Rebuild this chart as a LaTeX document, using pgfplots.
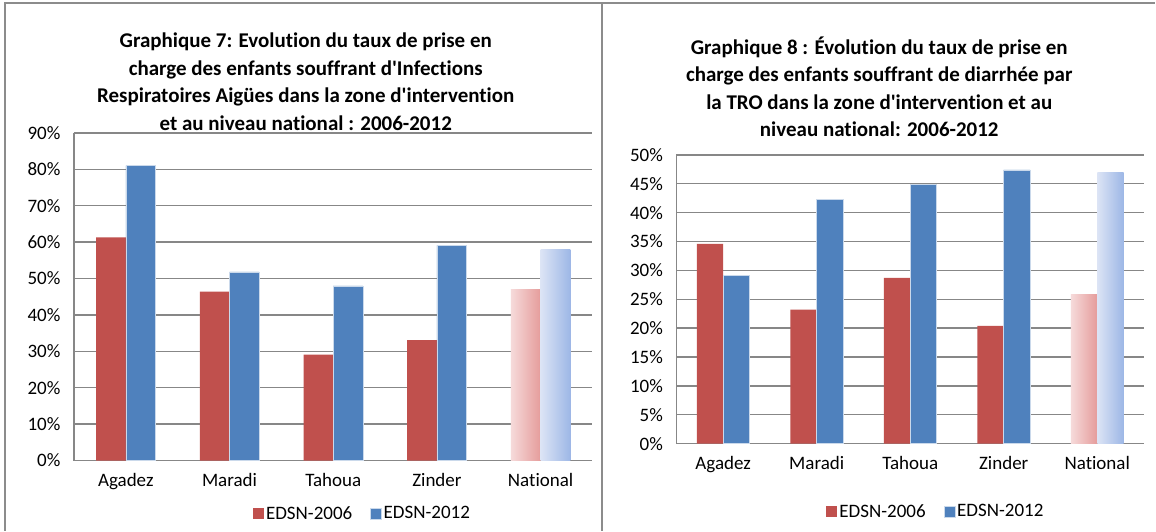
\documentclass[border=0pt]{standalone}
\usepackage{pgfplots}
\pgfplotsset{compat=1.18}
\usepackage{fontspec}
\setmainfont{Carlito}[RawFeature={-liga;-clig;-calt;-dlig}]
\definecolor{cred}{HTML}{C0504D}
\definecolor{cblue}{HTML}{4F81BD}
\definecolor{framec}{HTML}{8C8C8C}
\definecolor{gridc}{HTML}{878787}
\definecolor{nredA}{HTML}{F6DADA}
\definecolor{nredB}{HTML}{E59C9B}
\definecolor{nblueA}{HTML}{DCE4F5}
\definecolor{nblueB}{HTML}{9DB7E6}

\pgfplotsset{
  mystyle/.style={
    scale only axis, ybar,
    axis x line*=bottom, axis y line*=left,
    axis line style={gridc, line width=1.4pt},
    ymajorgrids, grid style={gridc, line width=1.4pt},
    xmin=-0.5, xmax=4.5, xtick={0,1,2,3,4},
    xticklabels={Agadez,Maradi,Tahoua,Zinder,National},
    major tick length=0pt,
    ymin=0,
    tick label style={font=\fontsize{19}{22}\selectfont, black},
    xticklabel style={yshift=-9pt},
    yticklabel style={xshift=-10pt},
    yticklabel={\pgfmathprintnumber{\tick}\%},
    /pgf/number format/assume math mode=true,
    legend columns=2,
    legend cell align=left,
    legend image code/.code={\fill[##1] (0pt,-5.5pt) rectangle (11pt,5.5pt);},
    legend style={draw=none, fill=none, font=\fontsize{19}{22}\selectfont,
      anchor=west, inner sep=0pt,
      /tikz/every even column/.append style={column sep=16pt}},
  }
}

\begin{document}
\begin{tikzpicture}[x=1pt,y=1pt]
\fill[white] (0,0) rectangle (1156,531);
\draw[framec, line width=2pt] (5,0) -- (5,528) -- (1156,528);
\draw[framec, line width=2pt] (603,0) -- (603,528);

\node[align=center, font=\fontsize{21}{27.5}\selectfont\bfseries] at (306,449)
{Graphique 7: Evolution du taux de prise en\\
charge des enfants souffrant d\textquotesingle Infections\\
Respiratoires Aigües dans la zone d\textquotesingle intervention\\
et au niveau national : 2006-2012};

\node[align=center, font=\fontsize{21}{27.5}\selectfont\bfseries] at (880,444)
{Graphique 8 : Évolution du taux de prise en\\
charge des enfants souffrant de diarrhée par\\
la TRO dans la zone d\textquotesingle intervention et au\\
niveau national: 2006-2012};

% Left chart
\begin{axis}[mystyle,
  at={(74pt,70pt)}, anchor=south west,
  width=519pt, height=328pt,
  ymax=90, ytick={0,10,...,90},
  bar width=29.7pt,
  legend style={at={(axis description cs:0.345,-0.1616)}},
]
\addplot[fill=cred, draw=none, bar shift=-14.85pt] coordinates {(0,61.3) (1,46.4) (2,29.1) (3,33.1)};
\addlegendentry{EDSN-2006}
\addplot[fill=cblue, draw=white!70!cblue, line width=0.5pt, bar shift=14.85pt] coordinates {(0,81.0) (1,51.8) (2,48.0) (3,59.1)};
\addlegendentry{EDSN-2012}
\addplot[forget plot, draw=none, left color=nredA, right color=nredB, bar shift=-14.85pt] coordinates {(4,46.9)};
\addplot[forget plot, draw=none, left color=nblueA, right color=nblueB, bar shift=14.85pt] coordinates {(4,58.0)};
\end{axis}

% Right chart
\begin{axis}[mystyle,
  at={(677pt,87pt)}, anchor=south west,
  width=468pt, height=289pt,
  ymax=50, ytick={0,5,...,50},
  bar width=26.3pt,
  legend style={at={(axis description cs:0.3205,-0.2353)}},
]
\addplot[fill=cred, draw=none, bar shift=-13.15pt] coordinates {(0,34.6) (1,23.2) (2,28.7) (3,20.4)};
\addlegendentry{EDSN-2006}
\addplot[fill=cblue, draw=white!70!cblue, line width=0.5pt, bar shift=13.15pt] coordinates {(0,29.1) (1,42.3) (2,44.9) (3,47.4)};
\addlegendentry{EDSN-2012}
\addplot[forget plot, draw=none, left color=nredA, right color=nredB, bar shift=-13.15pt] coordinates {(4,25.9)};
\addplot[forget plot, draw=none, left color=nblueA, right color=nblueB, bar shift=13.15pt] coordinates {(4,47.0)};
\end{axis}
\end{tikzpicture}
\end{document}
